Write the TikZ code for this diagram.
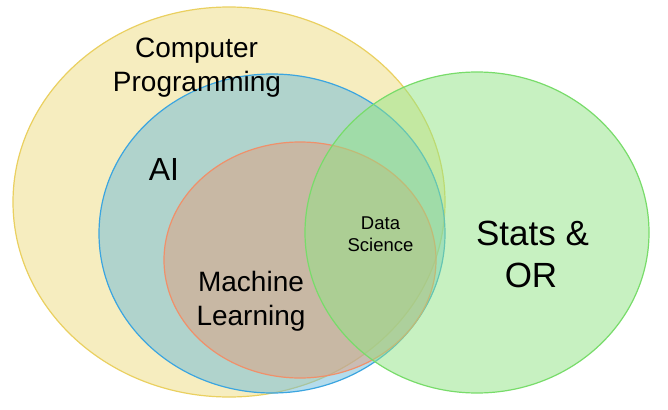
\documentclass[tikz,border=0pt]{standalone}
\usepackage{fontspec}
\setmainfont{Liberation Sans}
\definecolor{yfill}{HTML}{EFDD81}
\definecolor{ydraw}{HTML}{EAD060}
\definecolor{bfill}{HTML}{6BBADA}
\definecolor{bdraw}{HTML}{3BA5E0}
\definecolor{ofill}{HTML}{E19E7D}
\definecolor{odraw}{HTML}{F0906A}
\definecolor{gfill}{HTML}{91E585}
\definecolor{gdraw}{HTML}{78DC6A}
\tikzset{
  setbox/.style={line width=1.2pt, fill opacity=0.5},
  lbl/.style={anchor=base, inner sep=0pt, text=black}
}
\begin{document}
\begin{tikzpicture}[x=1pt,y=-1pt]
\useasboundingbox (0,0) rectangle (668,409);
\fill[white] (0,0) rectangle (668,409);
\path[setbox, draw=ydraw, fill=yfill] (229,202) ellipse [x radius=216, y radius=195];
\path[setbox, draw=bdraw, fill=bfill] (272,233.5) ellipse [x radius=173, y radius=159.5];
\path[setbox, draw=odraw, fill=ofill] (300,260) ellipse [x radius=136, y radius=118];
\path[setbox, draw=gdraw, fill=gfill] (477,232.5) ellipse [x radius=172, y radius=160.5];
\node[lbl, font=\fontsize{28}{34}\selectfont] (cp1) at (196.5,57.3) {Computer};
\node[lbl, font=\fontsize{28}{34}\selectfont] (cp2) at (197,91.7) {Programming};
\node[lbl, font=\fontsize{32}{38}\selectfont] (ai) at (164,180) {AI};
\node[lbl, font=\fontsize{28}{34}\selectfont] (ml1) at (251,291) {Machine};
\node[lbl, font=\fontsize{28}{34}\selectfont] (ml2) at (251,325) {Learning};
\node[lbl, font=\fontsize{18.5}{22}\selectfont] (ds1) at (380.5,229.3) {Data};
\node[lbl, font=\fontsize{18.5}{22}\selectfont] (ds2) at (380.5,251.7) {Science};
\node[lbl, font=\fontsize{35}{42}\selectfont] (so1) at (532.5,245) {Stats \&};
\node[lbl, font=\fontsize{35}{42}\selectfont] (so2) at (531,287.7) {OR};
\end{tikzpicture}
\end{document}
